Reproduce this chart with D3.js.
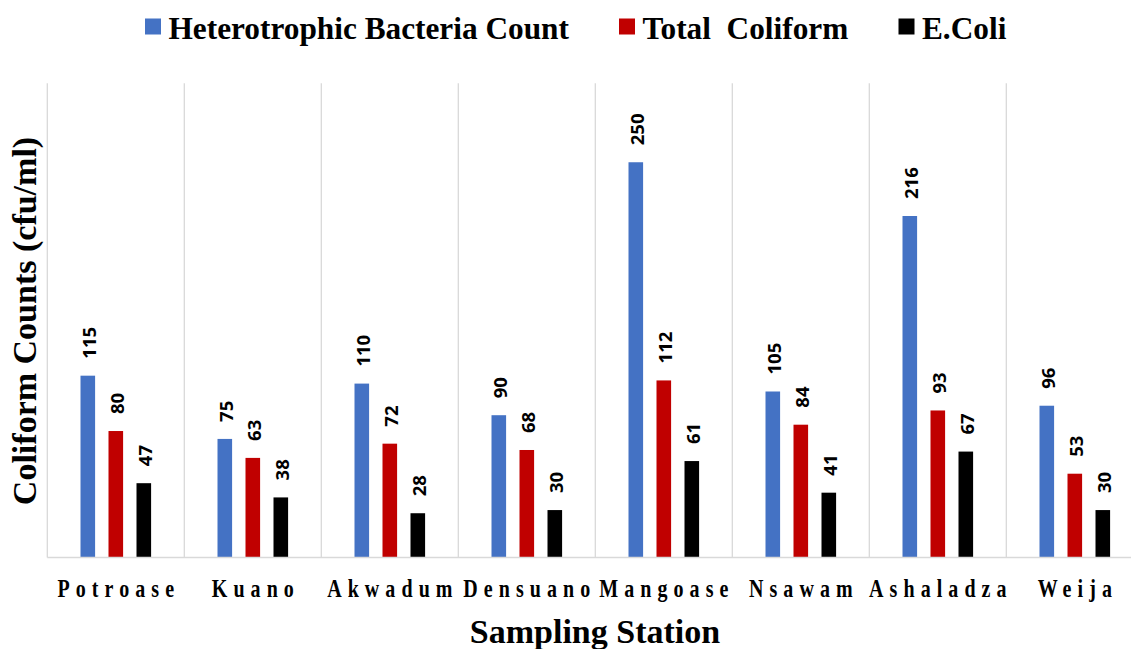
<!DOCTYPE html>
<html>
<head>
<meta charset="utf-8">
<script src="https://cdn.jsdelivr.net/npm/d3@7"></script>
<style>
  html, body { margin: 0; padding: 0; background: #fff; }
  svg { display: block; }
</style>
</head>
<body>
<svg id="chart" width="1131" height="649"></svg>
<script>
const categories = ["Potroase", "Kuano", "Akwadum", "Densuano", "Mangoase", "Nsawam", "Ashaladza", "Weija"];
const seriesNames = ["Heterotrophic Bacteria Count", "Total  Coliform", "E.Coli"];
const heterotrophic = [115, 75, 110, 90, 250, 105, 216, 96];
const totalColiform = [80, 63, 72, 68, 112, 84, 93, 53];
const eColi = [47, 38, 28, 30, 61, 41, 67, 30];
const seriesValues = [heterotrophic, totalColiform, eColi];
const colors = ["#4472C4", "#C00000", "#000000"];
const yMax = 300;

const svg = d3.select("#chart");
const left = 47.3, step = 137, baseY = 557.5, topY = 83.2;

const x = d3.scaleBand().domain(categories).range([left, left + step * categories.length]).padding(0);
const xs = d3.scalePoint().domain(seriesNames).range([40.5, 96.5]);
const y = d3.scaleLinear().domain([0, yMax]).range([baseY, topY]);
const barW = 14.6;

// vertical gridlines (category separators)
const grid = svg.append("g");
d3.range(categories.length + 1).forEach(i => {
  const gx = left + i * step;
  grid.append("line").attr("x1", gx).attr("x2", gx).attr("y1", y(yMax)).attr("y2", baseY)
    .attr("stroke", "#d9d9d9").attr("stroke-width", 1.3);
});

// bars
const rows = [];
categories.forEach((c, ci) => seriesNames.forEach((s, si) => rows.push({c, s, si, v: seriesValues[si][ci]})));

svg.append("g").selectAll("rect").data(rows).join("rect")
  .attr("x", d => x(d.c) + xs(d.s) - barW / 2)
  .attr("y", d => y(d.v))
  .attr("width", barW)
  .attr("height", d => baseY - y(d.v))
  .attr("fill", d => colors[d.si]);

// baseline axis
svg.append("line").attr("x1", left).attr("x2", left + step * categories.length)
  .attr("y1", baseY).attr("y2", baseY).attr("stroke", "#d9d9d9").attr("stroke-width", 1.5);

// data labels
svg.append("g").selectAll("text").data(rows).join("text")
  .attr("transform", d => `translate(${x(d.c) + xs(d.s) + 2},${y(d.v) - 17}) rotate(-90)`)
  .attr("dy", "0.36em")
  .attr("text-anchor", "start")
  .attr("font-family", "'Open Sans', sans-serif")
  .attr("font-weight", "bold")
  .attr("font-size", 18.5)
  .attr("fill", "#000")
  .text(d => d.v);

// category labels (condensed, letter-spaced)
const sx = 0.8, ls = 7.6;
svg.append("g").selectAll("text").data(categories).join("text")
  .attr("transform", d => `translate(${x(d) + x.bandwidth() / 2 + ls * sx / 2},597.3) scale(${sx},1)`)
  .attr("text-anchor", "middle")
  .attr("font-family", "'Liberation Serif', 'Times New Roman', serif")
  .attr("font-weight", "bold")
  .attr("font-size", 25)
  .attr("letter-spacing", ls)
  .attr("fill", "#000")
  .text(d => d);

// axis titles
svg.append("text")
  .attr("x", 595).attr("y", 643)
  .attr("text-anchor", "middle")
  .attr("font-family", "'Liberation Serif', 'Times New Roman', serif")
  .attr("font-weight", "bold").attr("font-size", 34)
  .text("Sampling Station");

svg.append("text")
  .attr("transform", "translate(36,321) rotate(-90)")
  .attr("text-anchor", "middle")
  .attr("font-family", "'Liberation Serif', 'Times New Roman', serif")
  .attr("font-weight", "bold").attr("font-size", 34)
  .text("Coliform Counts (cfu/ml)");

// legend
const legendX = [145, 619, 898.5];
const lg = svg.append("g");
seriesNames.forEach((s, i) => {
  lg.append("rect").attr("x", legendX[i]).attr("y", 18.5).attr("width", 16).attr("height", 16).attr("fill", colors[i]);
  lg.append("text").attr("x", legendX[i] + 23.5).attr("y", 38.5)
    .attr("font-family", "'Liberation Serif', 'Times New Roman', serif")
    .attr("font-weight", "bold").attr("font-size", 31.3)
    .attr("xml:space", "preserve").style("white-space", "pre")
    .text(s);
});
</script>
</body>
</html>
